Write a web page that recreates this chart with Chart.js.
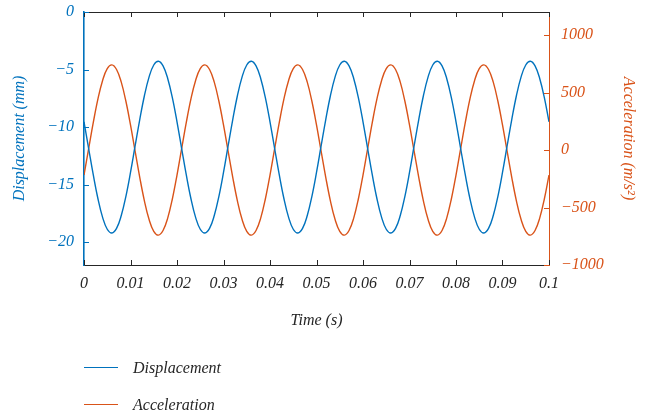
<!DOCTYPE html>
<html>
<head>
<meta charset="utf-8">
<script src="https://cdn.jsdelivr.net/npm/chart.js@4.4.0/dist/chart.umd.min.js"></script>
<style>
  html, body { margin: 0; padding: 0; background: #fff; }
  #wrap { position: relative; width: 649px; height: 417px; }
  #legend { position: absolute; left: 84px; top: 349px; font: italic 16px "Liberation Serif", serif; color: #262626; }
  .item { display: flex; align-items: center; height: 37px; }
  .swatch { width: 34px; height: 0; border-top: 1.4px solid; margin-right: 15px; }
</style>
</head>
<body>
<div id="wrap">
  <canvas id="chart" width="649" height="417"></canvas>
  <div id="legend">
    <div class="item"><span class="swatch" style="border-color:#0072BD"></span>Displacement</div>
    <div class="item"><span class="swatch" style="border-color:#D95319"></span>Acceleration</div>
  </div>
</div>
<script>
// sampled every 1 ms from t = 0 to t = 0.1 s
const dt = 0.001;

const displacement = [
  -9.55, -11.87, -14.17, -16.24, -17.86, -18.89, -19.22, -18.82, -17.72, -16.05,
  -13.95, -11.63, -9.33, -7.26, -5.64, -4.61, -4.28, -4.68, -5.78, -7.45,
  -9.55, -11.87, -14.17, -16.24, -17.86, -18.89, -19.22, -18.82, -17.72, -16.05,
  -13.95, -11.63, -9.33, -7.26, -5.64, -4.61, -4.28, -4.68, -5.78, -7.45,
  -9.55, -11.87, -14.17, -16.24, -17.86, -18.89, -19.22, -18.82, -17.72, -16.05,
  -13.95, -11.63, -9.33, -7.26, -5.64, -4.61, -4.28, -4.68, -5.78, -7.45,
  -9.55, -11.87, -14.17, -16.24, -17.86, -18.89, -19.22, -18.82, -17.72, -16.05,
  -13.95, -11.63, -9.33, -7.26, -5.64, -4.61, -4.28, -4.68, -5.78, -7.45,
  -9.55, -11.87, -14.17, -16.24, -17.86, -18.89, -19.22, -18.82, -17.72, -16.05,
  -13.95, -11.63, -9.33, -7.26, -5.64, -4.61, -4.28, -4.68, -5.78, -7.45,
  -9.55
];

const acceleration = [
  -218, 12, 240, 444, 605, 707, 740, 700, 592, 426,
  218, -12, -240, -444, -605, -707, -740, -700, -592, -426,
  -218, 12, 240, 444, 605, 707, 740, 700, 592, 426,
  218, -12, -240, -444, -605, -707, -740, -700, -592, -426,
  -218, 12, 240, 444, 605, 707, 740, 700, 592, 426,
  218, -12, -240, -444, -605, -707, -740, -700, -592, -426,
  -218, 12, 240, 444, 605, 707, 740, 700, 592, 426,
  218, -12, -240, -444, -605, -707, -740, -700, -592, -426,
  -218, 12, 240, 444, 605, 707, 740, 700, 592, 426,
  218, -12, -240, -444, -605, -707, -740, -700, -592, -426,
  -218
];

const timeTicks = [0, 0.01, 0.02, 0.03, 0.04, 0.05, 0.06, 0.07, 0.08, 0.09, 0.1];
const dispTicks = [0, -5, -10, -15, -20];
const accelTicks = [-1000, -500, 0, 500, 1000];

const BLUE = "#0072BD";
const ORANGE = "#D95319";
const DARK = "#262626";

Chart.defaults.font.family = "'Liberation Serif', serif";
Chart.defaults.font.style = "italic";
Chart.defaults.font.size = 16;

function minus(v) {
  return v < 0 ? "\u2212" + Math.abs(v) : String(v);
}

// MATLAB-style ticks pointing into the plot, plus the top frame line
const inwardTicks = {
  id: "inwardTicks",
  afterDraw(chart) {
    const { ctx, chartArea: a, scales } = chart;
    const len = 5;
    ctx.save();
    ctx.lineWidth = 1;

    ctx.strokeStyle = DARK;
    ctx.beginPath();
    ctx.moveTo(a.left, a.top + 0.5);
    ctx.lineTo(a.right, a.top + 0.5);
    scales.x.ticks.forEach(t => {
      const px = Math.round(scales.x.getPixelForValue(t.value)) + 0.5;
      ctx.moveTo(px, a.bottom);
      ctx.lineTo(px, a.bottom - len);
      ctx.moveTo(px, a.top);
      ctx.lineTo(px, a.top + len);
    });
    ctx.stroke();

    ctx.strokeStyle = BLUE;
    ctx.beginPath();
    scales.y.ticks.forEach(t => {
      const py = Math.round(scales.y.getPixelForValue(t.value)) + 0.5;
      ctx.moveTo(a.left, py);
      ctx.lineTo(a.left + len, py);
    });
    ctx.stroke();

    ctx.strokeStyle = ORANGE;
    ctx.beginPath();
    scales.y1.ticks.forEach(t => {
      const py = Math.round(scales.y1.getPixelForValue(t.value)) + 0.5;
      ctx.moveTo(a.right, py);
      ctx.lineTo(a.right - len, py);
    });
    ctx.stroke();
    ctx.restore();
  }
};

const ctx = document.getElementById("chart").getContext("2d");
const myChart = new Chart(ctx, {
  type: "line",
  data: {
    datasets: [
      {
        label: "Displacement",
        data: displacement.map((v, i) => ({ x: i * dt, y: v })),
        yAxisID: "y",
        borderColor: BLUE,
        borderWidth: 1.4,
        pointRadius: 0,
        tension: 0.4,
        fill: false,
      },
      {
        label: "Acceleration",
        data: acceleration.map((v, i) => ({ x: i * dt, y: v })),
        yAxisID: "y1",
        borderColor: ORANGE,
        borderWidth: 1.4,
        pointRadius: 0,
        tension: 0.4,
        fill: false,
      },
    ],
  },
  options: {
    responsive: false,
    animation: false,
    layout: { padding: { top: 12, bottom: 87, left: 0, right: 0 } },
    plugins: {
      legend: { display: false },
      tooltip: { enabled: false },
    },
    scales: {
      x: {
        type: "linear",
        min: 0,
        max: 0.1,
        afterBuildTicks: s => { s.ticks = timeTicks.map(v => ({ value: v })); },
        afterFit: s => { s.height = 65; s.paddingLeft = 0; s.paddingRight = 0; },
        grid: { display: false, drawTicks: false },
        border: { display: true, color: DARK, width: 1 },
        ticks: {
          color: DARK,
          padding: 9,
          maxRotation: 0,
          callback: v => String(+v.toFixed(2)),
        },
        title: { display: true, text: "Time (s)", color: DARK, padding: 0 },
      },
      y: {
        position: "left",
        min: -22,
        max: 0,
        afterBuildTicks: s => { s.ticks = dispTicks.map(v => ({ value: v })); },
        afterFit: s => { s.width = 84; s.paddingTop = 0; s.paddingBottom = 0; },
        grid: { display: false, drawTicks: false },
        border: { display: true, color: BLUE, width: 1.6 },
        ticks: { color: BLUE, padding: 10, callback: v => minus(v) },
        title: { display: true, text: "Displacement (mm)", color: BLUE, padding: { top: 10 } },
      },
      y1: {
        position: "right",
        min: -1000,
        max: 1200,
        afterBuildTicks: s => { s.ticks = accelTicks.map(v => ({ value: v })); },
        afterFit: s => { s.width = 100; s.paddingTop = 0; s.paddingBottom = 0; },
        grid: { display: false, drawTicks: false },
        border: { display: true, color: ORANGE, width: 1 },
        ticks: { color: ORANGE, padding: 12, callback: v => minus(v) },
        title: { display: true, text: "Acceleration (m/s\u00B2)", color: ORANGE, padding: { top: 11 } },
      },
    },
  },
  plugins: [inwardTicks],
});
</script>
</body>
</html>
